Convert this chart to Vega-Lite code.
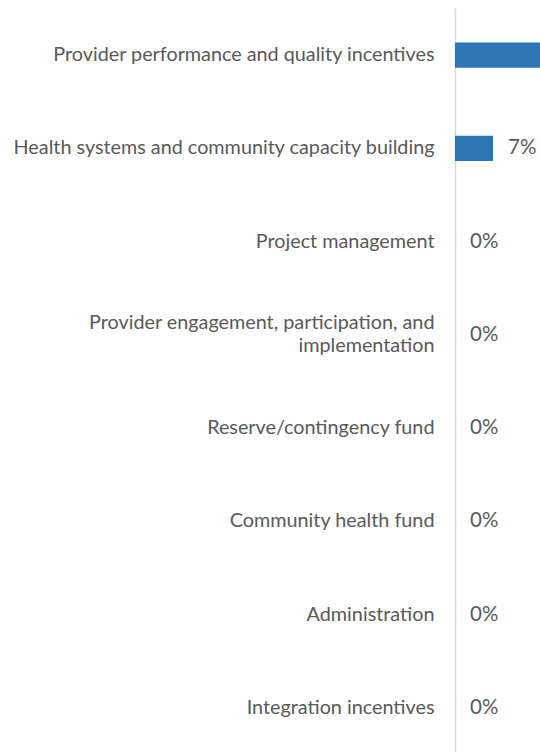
{
  "$schema": "https://vega.github.io/schema/vega-lite/v6.json",
  "autosize": {"type": "none"},
  "padding": {"left": 455, "top": 8, "right": 0, "bottom": 0},
  "width": 543,
  "height": 747,
  "background": "white",
  "config": {"view": {"stroke": null}},
  "data": {
    "values": [
      {"category": "Provider performance and quality incentives", "pct": 0.93},
      {"category": "Health systems and community capacity building", "pct": 0.07},
      {"category": "Project management", "pct": 0},
      {"category": "Provider engagement, participation, and|implementation", "pct": 0},
      {"category": "Reserve/contingency fund", "pct": 0},
      {"category": "Community health fund", "pct": 0},
      {"category": "Administration", "pct": 0},
      {"category": "Integration incentives", "pct": 0}
    ]
  },
  "encoding": {
    "y": {
      "field": "category",
      "type": "nominal",
      "sort": null,
      "scale": {"paddingInner": 0.73, "paddingOuter": 0.37},
      "axis": {
        "title": null,
        "domain": true,
        "domainColor": "#D9D9D9",
        "domainWidth": 1.5,
        "ticks": false,
        "labelPadding": 21,
        "labelFont": "Lato",
        "labelFontSize": 19.8,
        "labelColor": "#595959",
        "labelLimit": 0,
        "labelLineHeight": 23,
        "labelOffset": {"condition": {"test": "indexof(datum.value, '|') >= 0", "value": -11.5}, "value": 0},
        "labelExpr": "split(datum.label, '|')"
      }
    },
    "x": {
      "field": "pct",
      "type": "quantitative",
      "scale": {"domain": [0, 1], "nice": false},
      "axis": null
    }
  },
  "layer": [
    {"mark": {"type": "bar", "color": "#2E75B6"}},
    {
      "mark": {"type": "text", "align": "left", "dx": 15, "font": "Lato", "fontSize": 20.5, "color": "#595959"},
      "encoding": {"text": {"field": "pct", "type": "quantitative", "format": ".0%"}}
    }
  ]
}
